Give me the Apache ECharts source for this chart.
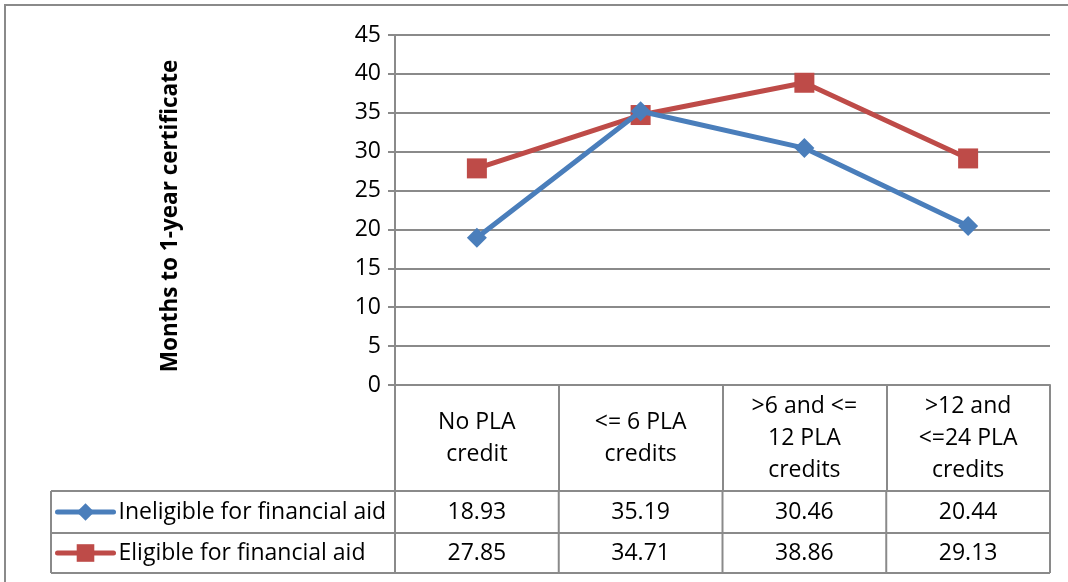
<!DOCTYPE html>
<html>
<head>
<meta charset="utf-8">
<script src="https://cdn.jsdelivr.net/npm/echarts@6/dist/echarts.min.js"></script>
<style>
  html, body { margin: 0; padding: 0; background: #ffffff; }
  #chart { width: 1068px; height: 582px; }
</style>
</head>
<body>
<div id="chart"></div>
<script>
// Category labels (shown in the header row of the data table)
const categories = ['No PLA\ncredit', '<= 6 PLA\ncredits', '>6 and <=\n12 PLA\ncredits', '>12 and\n<=24 PLA\ncredits'];
// Series names
const seriesNames = ['Ineligible for financial aid', 'Eligible for financial aid'];
// Months to 1-year certificate
const ineligible = [18.93, 35.19, 30.46, 20.44];
const eligible = [27.85, 34.71, 38.86, 29.13];
// Value axis range
const yMin = 0;
const yMax = 45;
const yStep = 5;

const FONT = '"Open Sans"';
const FONT_SIZE = 23;
const GRID_COLOR = '#8a8a8a';
const BLUE = '#4a7ebb';
const RED = '#be4b48';

// Table geometry (pixels)
const TABLE_LEFT = 51;
const HEADER_BOTTOM = 491;
const ROW_BOTTOMS = [533, 573];

const chart = echarts.init(document.getElementById('chart'), null, { renderer: 'canvas' });

const option = {
  animation: false,
  backgroundColor: '#ffffff',
  textStyle: { fontFamily: FONT },
  grid: { left: 395, right: 18, top: 35, bottom: 197, containLabel: false },
  legend: {
    orient: 'vertical',
    left: 55,
    top: 499,
    padding: 0,
    itemWidth: 56,
    itemHeight: 22,
    itemGap: 15,
    data: seriesNames,
    selectedMode: false,
    lineStyle: { width: 5, cap: 'round' },
    textStyle: { fontFamily: FONT, fontSize: FONT_SIZE, color: '#000', lineHeight: 26 }
  },
  xAxis: {
    type: 'category',
    data: categories,
    boundaryGap: true,
    axisLine: { show: true, lineStyle: { color: GRID_COLOR, width: 2 } },
    axisTick: { show: true, interval: 0, length: HEADER_BOTTOM - 385, lineStyle: { color: GRID_COLOR, width: 2 } },
    axisLabel: {
      interval: 0,
      margin: 53,
      verticalAlign: 'middle',
      fontFamily: FONT,
      fontSize: FONT_SIZE,
      lineHeight: 32,
      color: '#000'
    },
    splitLine: { show: false }
  },
  yAxis: {
    type: 'value',
    min: yMin,
    max: yMax,
    interval: yStep,
    name: 'Months to 1-year certificate',
    nameLocation: 'middle',
    nameRotate: 90,
    nameGap: 213,
    nameTextStyle: { fontFamily: FONT, fontSize: 22.5, fontWeight: 'bold', color: '#000', padding: [0, 12, 0, 0] },
    axisLine: { show: true, lineStyle: { color: GRID_COLOR, width: 2 } },
    axisTick: { show: true, length: 7, lineStyle: { color: GRID_COLOR, width: 2 } },
    axisLabel: { margin: 14, fontFamily: FONT, fontSize: FONT_SIZE, color: '#000' },
    splitLine: { show: true, lineStyle: { color: GRID_COLOR, width: 2 } }
  },
  series: [
    {
      name: seriesNames[0],
      type: 'line',
      data: ineligible,
      symbol: 'diamond',
      symbolSize: 20,
      lineStyle: { color: BLUE, width: 5 },
      itemStyle: { color: BLUE },
      z: 3
    },
    {
      name: seriesNames[1],
      type: 'line',
      data: eligible,
      symbol: 'rect',
      symbolSize: 20,
      lineStyle: { color: RED, width: 5 },
      itemStyle: { color: RED },
      z: 2
    }
  ]
};

chart.setOption(option);

// Data table below the plot: grid lines and value cells, aligned to the category axis
function drawTable() {
  const c0 = chart.convertToPixel({ xAxisIndex: 0 }, 0);
  const c1 = chart.convertToPixel({ xAxisIndex: 0 }, 1);
  const band = c1 - c0;
  const plotLeft = c0 - band / 2;
  const bounds = [];
  for (let i = 0; i <= categories.length; i++) bounds.push(plotLeft + i * band);
  const tableRight = bounds[bounds.length - 1];

  const elements = [];
  const lineStyle = { stroke: GRID_COLOR, lineWidth: 2 };

  // outer frame around the whole figure
  elements.push({
    type: 'rect', silent: true, z: 0,
    shape: { x: 5, y: 5, width: 1200, height: 800 },
    style: { fill: null, stroke: GRID_COLOR, lineWidth: 2 }
  });

  // horizontal rules of the series rows
  [HEADER_BOTTOM].concat(ROW_BOTTOMS).forEach(function (y) {
    elements.push({ type: 'line', silent: true, shape: { x1: TABLE_LEFT, y1: y, x2: tableRight, y2: y }, style: lineStyle });
  });
  // vertical rules of the series rows
  [TABLE_LEFT].concat(bounds).forEach(function (x) {
    elements.push({ type: 'line', silent: true, shape: { x1: x, y1: HEADER_BOTTOM, x2: x, y2: ROW_BOTTOMS[1] }, style: lineStyle });
  });

  // value cells
  const rows = [ineligible, eligible];
  let top = HEADER_BOTTOM;
  rows.forEach(function (values, r) {
    const mid = (top + ROW_BOTTOMS[r]) / 2;
    values.forEach(function (v, i) {
      elements.push({
        type: 'text', silent: true,
        style: {
          x: chart.convertToPixel({ xAxisIndex: 0 }, i),
          y: mid,
          text: v.toFixed(2),
          fill: '#000',
          font: FONT_SIZE + 'px ' + FONT,
          align: 'center',
          verticalAlign: 'middle'
        }
      });
    });
    top = ROW_BOTTOMS[r];
  });

  chart.setOption({ graphic: { elements: elements } });
}

drawTable();
</script>
</body>
</html>
